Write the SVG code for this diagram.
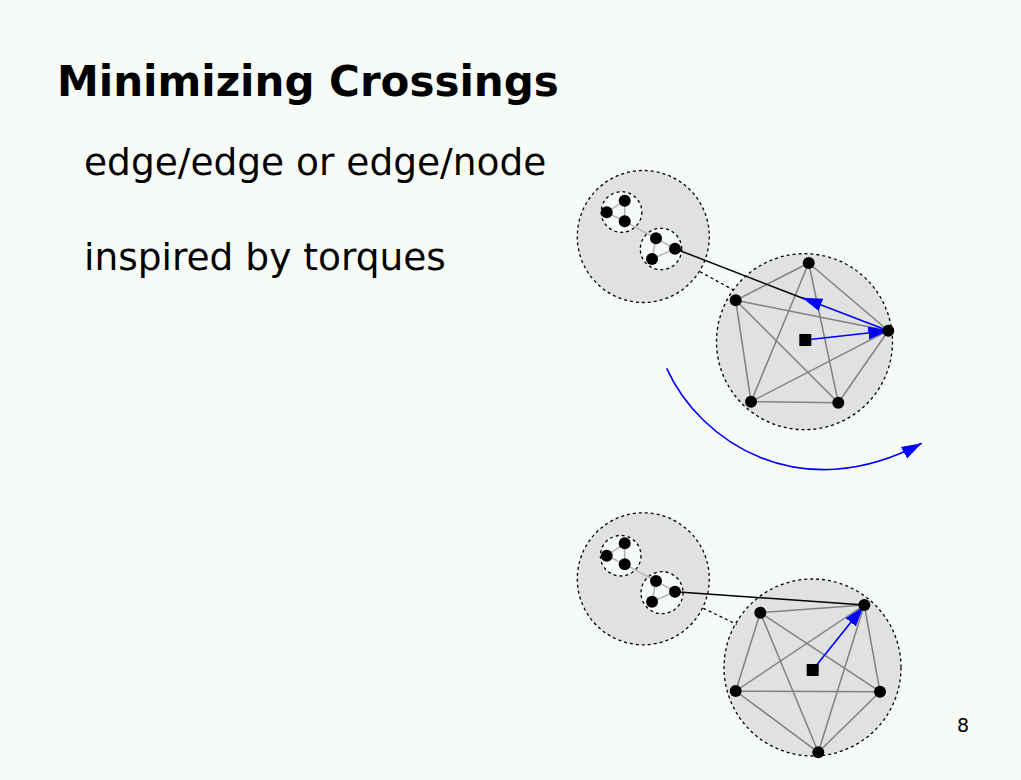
<svg xmlns="http://www.w3.org/2000/svg" width="1021" height="780" viewBox="0 0 1021 780">
<defs>
<style>
.bg{fill:#f7fbf8}
.big{fill:#e0e2e0;stroke:#000;stroke-width:1.3;stroke-dasharray:3,3}
.small{fill:#f7fbf8;stroke:#000;stroke-width:1.3;stroke-dasharray:3,3}
.dash{stroke:#000;stroke-width:1.3;stroke-dasharray:3,3;fill:none}
.e{stroke:#808080;stroke-width:1.5;fill:none}
.se{stroke:#b4b4b4;stroke-width:1.5;fill:none}
.n{fill:#000}
.link{stroke:#000;stroke-width:1.5;fill:none}
.blue{stroke:#0000ff;stroke-width:1.6;fill:none}
.t{font-family:"DejaVu Sans",sans-serif;fill:#000}
</style>
<marker id="ah" markerUnits="userSpaceOnUse" markerWidth="21" markerHeight="14" refX="20" refY="6.5" orient="auto">
<path d="M0,0 L20,6.5 L0,13 z" fill="#0000ff"/>
</marker>
</defs>
<rect class="bg" x="0" y="0" width="1021" height="780"/>
<text class="t" x="57" y="96" font-size="42" font-weight="bold">Minimizing Crossings</text>
<text class="t" x="84" y="175" font-size="37.5">edge/edge or edge/node</text>
<text class="t" x="84" y="270" font-size="37.5">inspired by torques</text>
<text class="t" x="957" y="732" font-size="19">8</text>

<!-- top diagram -->
<g id="top-left-cluster">
<circle class="big" cx="643.3" cy="236.5" r="66"/>
</g>
<g id="top-right-cluster">
<circle class="big" cx="804.5" cy="341.7" r="88"/>
</g>
<g id="top-sub1">
<circle class="small" cx="621.5" cy="212" r="20.3"/>
</g>
<g id="top-sub2">
<circle class="small" cx="661" cy="249" r="20.7"/>
</g>
<g id="connectors-top">
<line class="dash" x1="700" y1="271.7" x2="733.3" y2="290"/>
<path class="se" d="M606.7,212.3 L624.7,200.7 L624.7,221.3 Z M624.7,221.3 L656,238.3 M656,238.3 L675,248.7 L652,259 Z"/>
<path class="e" d="M808.7,263 L735.7,300.3 M808.7,263 L888.3,330.7 M808.7,263 L751,401.7 M808.7,263 L838.3,402.7 M735.7,300.3 L888.3,330.7 M735.7,300.3 L751,401.7 M735.7,300.3 L838.3,402.7 M888.3,330.7 L751,401.7 M888.3,330.7 L838.3,402.7 M751,401.7 L838.3,402.7"/>
<line class="link" x1="675" y1="248.7" x2="806" y2="299.5"/>
<line class="blue" x1="888.3" y1="330.7" x2="802.3" y2="297.7" marker-end="url(#ah)"/>
<line class="blue" x1="805.3" y1="340" x2="888.3" y2="330.7" marker-end="url(#ah)"/>
<path class="blue" d="M666.7,368.3 C700,442 800,508 921.7,443.3" marker-end="url(#ah)"/>
</g>
<g id="top-nodes">
<circle class="n" cx="606.7" cy="212.3" r="6"/>
<circle class="n" cx="624.7" cy="200.7" r="6"/>
<circle class="n" cx="624.7" cy="221.3" r="6"/>
<circle class="n" cx="656" cy="238.3" r="6"/>
<circle class="n" cx="675" cy="248.7" r="6"/>
<circle class="n" cx="652" cy="259" r="6"/>
<circle class="n" cx="808.7" cy="263" r="6"/>
<circle class="n" cx="735.7" cy="300.3" r="6"/>
<circle class="n" cx="888.3" cy="330.7" r="6"/>
<circle class="n" cx="751" cy="401.7" r="6"/>
<circle class="n" cx="838.3" cy="402.7" r="6"/>
<rect class="n" x="799.3" y="334" width="12" height="12"/>
</g>

<!-- bottom diagram -->
<g id="bottom-left-cluster">
<circle class="big" cx="643.3" cy="578.8" r="66"/>
</g>
<g id="bottom-right-cluster">
<circle class="big" cx="812.5" cy="667.5" r="88.5"/>
</g>
<g id="bottom-sub1">
<circle class="small" cx="620.7" cy="555.7" r="20.3"/>
</g>
<g id="bottom-sub2">
<circle class="small" cx="662" cy="592.7" r="21"/>
</g>
<g id="connectors-bottom">
<line class="dash" x1="703.3" y1="608.3" x2="736.7" y2="624.3"/>
<path class="se" d="M606.7,555.7 L624.7,543.3 L624.7,564.3 Z M624.7,564.3 L656,581 M656,581 L675,591.7 L652,601.7 Z"/>
<path class="e" d="M760.3,612.7 L864.3,605 M760.3,612.7 L735.7,691 M760.3,612.7 L880,691.7 M760.3,612.7 L818.3,752.3 M864.3,605 L735.7,691 M864.3,605 L880,691.7 M864.3,605 L818.3,752.3 M735.7,691 L880,691.7 M735.7,691 L818.3,752.3 M880,691.7 L818.3,752.3"/>
<line class="link" x1="675" y1="591.7" x2="864.3" y2="605"/>
<line class="blue" x1="812.7" y1="670" x2="863.3" y2="606.7" marker-end="url(#ah)"/>
</g>
<g id="bottom-nodes">
<circle class="n" cx="606.7" cy="555.7" r="6"/>
<circle class="n" cx="624.7" cy="543.3" r="6"/>
<circle class="n" cx="624.7" cy="564.3" r="6"/>
<circle class="n" cx="656" cy="581" r="6"/>
<circle class="n" cx="675" cy="591.7" r="6"/>
<circle class="n" cx="652" cy="601.7" r="6"/>
<circle class="n" cx="760.3" cy="612.7" r="6"/>
<circle class="n" cx="864.3" cy="605" r="6"/>
<circle class="n" cx="735.7" cy="691" r="6"/>
<circle class="n" cx="880" cy="691.7" r="6"/>
<circle class="n" cx="818.3" cy="752.3" r="6"/>
<rect class="n" x="806.7" y="664" width="12" height="12"/>
</g>
</svg>
